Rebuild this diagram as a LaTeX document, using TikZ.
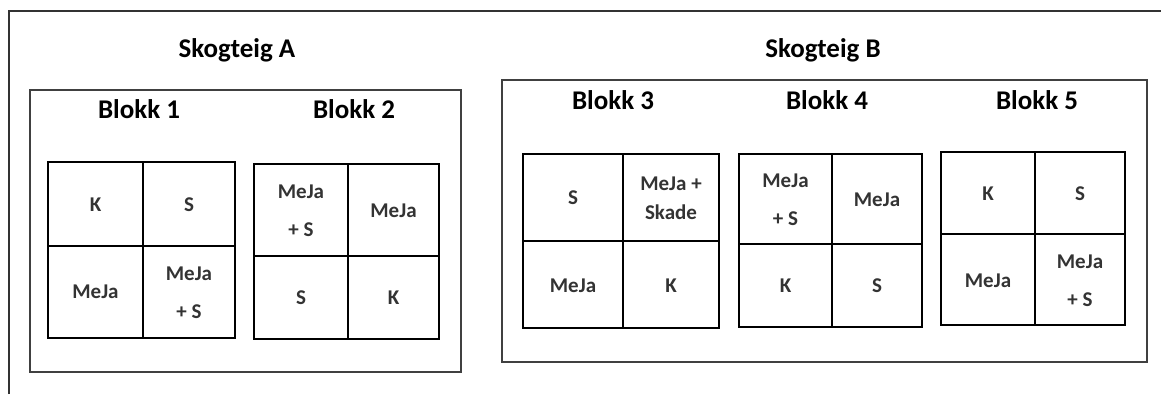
\documentclass[tikz,border=0pt]{standalone}
\usepackage{fontspec}
\setmainfont{Carlito}
\usepackage{tikz}

\tikzset{
  title/.style={font=\fontsize{27}{32}\selectfont\bfseries},
  cell/.style={align=center, text=black!80, font=\fontsize{21}{38}\selectfont\bfseries},
  teig/.style={draw=black!75, line width=1.2pt},
  rute/.style={draw=black, line width=2pt}
}

% grid of 2x2 plots: x0 xm x1 y0 ym y1
\newcommand{\plotgrid}[6]{
  \draw[rute] (#1,#4) rectangle (#3,#6);
  \draw[rute] (#2,#4) -- (#2,#6);
  \draw[rute] (#1,#5) -- (#3,#5);
}

\begin{document}
\begin{tikzpicture}[x=1pt,y=-1pt]
\useasboundingbox (0,0) rectangle (1161,394);
\draw[black!80, line width=1.4pt] (9,394) -- (9,11) -- (1161,11);

% Skogteig A
\node[title] (teigA) at (237,50) {Skogteig A};
\draw[teig] (30,90) rectangle (461,372);
\node[title] (blokk1) at (139,109) {Blokk 1};
\node[title] (blokk2) at (354,109) {Blokk 2};

\plotgrid{48}{143}{235}{162}{246}{338}
\node[cell] (c1a) at (95.5,205) {K};
\node[cell] (c1b) at (189,205) {S};
\node[cell] (c1c) at (95.5,292) {MeJa};
\node[cell] (c1d) at (189,293) {MeJa\\+ S};

\plotgrid{254}{348}{439}{164}{256}{339}
\node[cell] (c2a) at (301,211) {MeJa\\+ S};
\node[cell] (c2b) at (393.5,211) {MeJa};
\node[cell] (c2c) at (301,297.5) {S};
\node[cell] (c2d) at (393.5,297.5) {K};

% Skogteig B
\node[title] (teigB) at (823,50) {Skogteig B};
\draw[teig] (502,80) rectangle (1147,362);
\node[title] (blokk3) at (613,100) {Blokk 3};
\node[title] (blokk4) at (827,100) {Blokk 4};
\node[title] (blokk5) at (1037,100) {Blokk 5};

\plotgrid{523}{623}{719}{154}{241}{328}
\node[cell] (c3a) at (573,198) {S};
\node[cell, font=\fontsize{21}{29}\selectfont\bfseries] (c3b) at (671,198) {MeJa +\\Skade};
\node[cell] (c3c) at (573,286) {MeJa};
\node[cell] (c3d) at (671,286) {K};

\plotgrid{739}{832}{922}{154}{244}{327}
\node[cell] (c4a) at (785.5,200) {MeJa\\+ S};
\node[cell] (c4b) at (877,200) {MeJa};
\node[cell] (c4c) at (785.5,286) {K};
\node[cell] (c4d) at (877,286) {S};

\plotgrid{941}{1035}{1125}{152}{234}{325}
\node[cell] (c5a) at (988,194) {K};
\node[cell] (c5b) at (1080,194) {S};
\node[cell] (c5c) at (988,281) {MeJa};
\node[cell] (c5d) at (1080,281) {MeJa\\+ S};
\end{tikzpicture}
\end{document}
